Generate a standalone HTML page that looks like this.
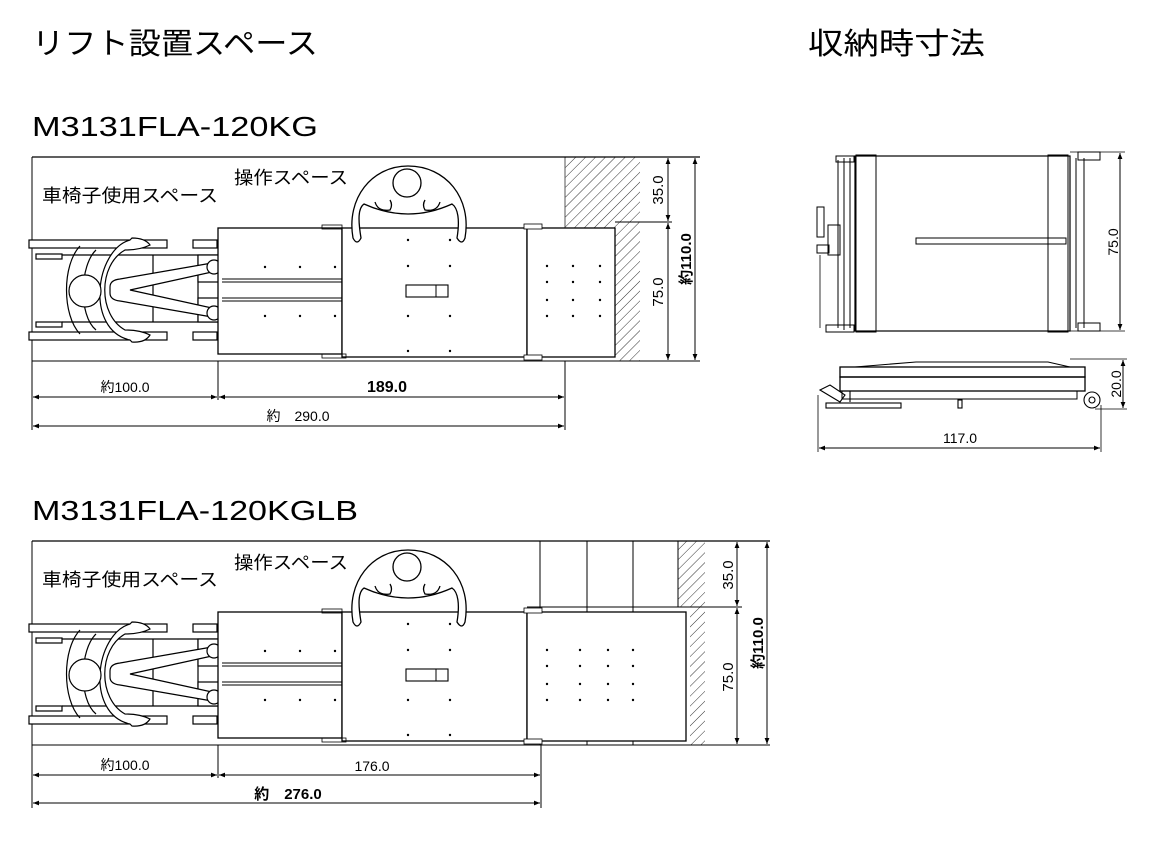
<!DOCTYPE html>
<html><head><meta charset="utf-8"><style>
html,body{margin:0;padding:0;background:#fff;}
svg{display:block;}
text{font-family:"Liberation Sans","Noto Sans CJK JP",sans-serif;fill:#000;}
</style></head><body>
<svg width="1165" height="843" viewBox="0 0 1165 843" xmlns="http://www.w3.org/2000/svg">
<defs>
<pattern id="h" width="7" height="7" patternUnits="userSpaceOnUse" patternTransform="rotate(45)">
<line x1="0" y1="0" x2="0" y2="7" stroke="#333" stroke-width="1"/>
</pattern>
<marker id="a" viewBox="0 0 10 10" refX="10" refY="5" markerWidth="8" markerHeight="6" orient="auto-start-reverse"><path d="M0,1 L10,5 L0,9 z" fill="#000"/></marker>
<g id="wc" fill="#fff" stroke="#000" stroke-width="1.2">
 <rect x="29" y="240" width="138" height="8"/><rect x="193" y="240" width="24" height="8"/>
 <rect x="29" y="332" width="138" height="8"/><rect x="193" y="332" width="24" height="8"/>
 <rect x="36" y="254" width="26" height="5"/><rect x="36" y="322" width="26" height="5"/>
 <line x1="62" y1="255" x2="222" y2="255"/><line x1="62" y1="322" x2="222" y2="322"/>
 <line x1="153" y1="255" x2="153" y2="322"/><line x1="198" y1="255" x2="198" y2="322"/>
 <rect x="198" y="255" width="24" height="27"/><rect x="198" y="298" width="24" height="24"/>
 <path d="M110,287 Q110,280 120,279 L212,263 L212,272 L130,290 L212,308 L212,317 L120,301 Q110,300 110,293 z"/>
 <circle cx="214" cy="267" r="7"/><circle cx="214" cy="313" r="7"/>
 <path d="M96,250 C80,265 78,315 96,330" fill="none"/>
 <path d="M130,240 C95,250 85,330 130,340 L132,342 Q145,343 150,335 Q140,330 125,330 C98,315 98,265 125,250 Q140,250 150,245 Q145,238 132,238 z"/>
 <path d="M80,246 C62,265 62,315 80,334" fill="none"/>
 <circle cx="85" cy="291" r="16"/>
</g>
<g id="op" fill="#fff" stroke="#000" stroke-width="1.3">
 <path d="M353,238 C346,198 372,166 408,166 C446,166 472,198 465,238 Q462,246 457,238 C460,220 458,208 452,204 Q430,214 408,214 Q386,214 364,204 C358,208 358,220 361,238 Q357,246 353,238 z"/>
 <circle cx="407" cy="183" r="14"/>
 <path d="M375,202 Q378,212 390,210 Q393,205 390,200"/>
 <path d="M440,202 Q437,212 425,210 Q422,205 425,200"/>
</g>
<g id="dots" fill="#000">
 <circle cx="265" cy="267" r="1.2"/><circle cx="300" cy="267" r="1.2"/><circle cx="335" cy="267" r="1.2"/>
 <circle cx="265" cy="316" r="1.2"/><circle cx="300" cy="316" r="1.2"/><circle cx="335" cy="316" r="1.2"/>
 <circle cx="408" cy="240" r="1.2"/><circle cx="450" cy="240" r="1.2"/>
 <circle cx="408" cy="266" r="1.2"/><circle cx="450" cy="266" r="1.2"/>
 <circle cx="408" cy="316" r="1.2"/><circle cx="450" cy="316" r="1.2"/>
 <circle cx="408" cy="351" r="1.2"/><circle cx="450" cy="351" r="1.2"/>
</g>
<g id="lift" fill="none" stroke="#000" stroke-width="1.3">
 <rect x="218" y="228" width="124" height="126" fill="#fff"/>
 <line x1="222" y1="279" x2="342" y2="279" stroke-width="1"/><line x1="222" y1="282" x2="342" y2="282" stroke-width="1"/>
 <line x1="222" y1="298" x2="342" y2="298" stroke-width="1"/><line x1="222" y1="301" x2="342" y2="301" stroke-width="1"/>
 <rect x="342" y="228" width="185" height="129" fill="#fff"/>
 <rect x="406" y="285" width="42" height="12" stroke-width="1.1"/>
 <line x1="436" y1="285" x2="436" y2="297" stroke-width="1"/>
 <rect x="322" y="225" width="20" height="4" stroke-width="0.8"/><rect x="322" y="354" width="24" height="4" stroke-width="0.8"/>
</g>
</defs>

<text x="32" y="54" font-size="30" textLength="286" lengthAdjust="spacingAndGlyphs">リフト設置スペース</text>
<text x="808" y="54" font-size="30" textLength="177" lengthAdjust="spacingAndGlyphs">収納時寸法</text>
<text x="32" y="136" font-size="28" textLength="286" lengthAdjust="spacingAndGlyphs">M3131FLA-120KG</text>
<text x="32" y="520" font-size="28" textLength="326" lengthAdjust="spacingAndGlyphs">M3131FLA-120KGLB</text>

<!-- Diagram 1 -->
<g>
 <polygon points="565,157 640,157 640,361 615,361 615,228 565,228" fill="url(#h)"/>
 <line x1="565" y1="157" x2="565" y2="228" stroke="#555" stroke-width="1"/>
 <line x1="32" y1="157" x2="700" y2="157" stroke="#000" stroke-width="1.3"/>
 <line x1="32" y1="157" x2="32" y2="430" stroke="#000" stroke-width="1"/>
 <line x1="32" y1="361" x2="218" y2="361" stroke="#000" stroke-width="1"/>
 <line x1="218" y1="361" x2="218" y2="400" stroke="#000" stroke-width="1"/>
 <line x1="565" y1="361" x2="565" y2="430" stroke="#000" stroke-width="1"/>
 <line x1="218" y1="361" x2="700" y2="361" stroke="#000" stroke-width="1"/>
 <line x1="615" y1="222" x2="672" y2="222" stroke="#000" stroke-width="1"/>
 <use href="#wc"/>
 <use href="#lift"/>
 <use href="#dots"/>
 <rect x="527" y="228" width="88" height="129" fill="#fff" stroke="#000" stroke-width="1.3"/>
 <rect x="524" y="224" width="18" height="5" fill="#fff" stroke="#000" stroke-width="0.8"/>
 <rect x="524" y="355" width="18" height="5" fill="#fff" stroke="#000" stroke-width="0.8"/>
 <g fill="#000"><circle cx="547" cy="266" r="1.2"/><circle cx="573" cy="266" r="1.2"/><circle cx="600" cy="266" r="1.2"/><circle cx="547" cy="282" r="1.2"/><circle cx="573" cy="282" r="1.2"/><circle cx="600" cy="282" r="1.2"/><circle cx="547" cy="300" r="1.2"/><circle cx="573" cy="300" r="1.2"/><circle cx="600" cy="300" r="1.2"/><circle cx="547" cy="316" r="1.2"/><circle cx="573" cy="316" r="1.2"/><circle cx="600" cy="316" r="1.2"/></g>
 <use href="#op"/>
 <text x="42" y="202" font-size="18" textLength="176" lengthAdjust="spacingAndGlyphs">車椅子使用スペース</text>
 <text x="234" y="184" font-size="18" textLength="114" lengthAdjust="spacingAndGlyphs">操作スペース</text>
 <g stroke="#000" stroke-width="1" fill="none">
  <line x1="668" y1="158" x2="668" y2="221" marker-start="url(#a)" marker-end="url(#a)"/>
  <line x1="668" y1="223" x2="668" y2="360" marker-start="url(#a)" marker-end="url(#a)"/>
  <line x1="695" y1="158" x2="695" y2="360" marker-start="url(#a)" marker-end="url(#a)"/>
  <line x1="33" y1="397" x2="217" y2="397" marker-start="url(#a)" marker-end="url(#a)"/>
  <line x1="219" y1="397" x2="564" y2="397" marker-start="url(#a)" marker-end="url(#a)"/>
  <line x1="33" y1="426" x2="564" y2="426" marker-start="url(#a)" marker-end="url(#a)"/>
 </g>
 <text transform="translate(663,190) rotate(-90)" font-size="15" text-anchor="middle">35.0</text>
 <text transform="translate(663,292) rotate(-90)" font-size="15" text-anchor="middle">75.0</text>
 <text transform="translate(691,259) rotate(-90)" font-size="15" font-weight="bold" text-anchor="middle">約110.0</text>
 <text x="125" y="392" font-size="14" text-anchor="middle">約100.0</text>
 <text x="387" y="392" font-size="16" font-weight="bold" text-anchor="middle">189.0</text>
 <text x="298" y="421" font-size="14" text-anchor="middle">約　290.0</text>
</g>

<!-- Diagram 2 -->
<g>
 <polygon points="678,541 705,541 705,745 690,745 690,607 678,607" fill="url(#h)"/>
 <g stroke="#000" stroke-width="1" fill="none">
  <line x1="540" y1="541" x2="540" y2="745"/><line x1="587" y1="541" x2="587" y2="745"/><line x1="633" y1="541" x2="633" y2="745"/><line x1="678" y1="541" x2="678" y2="607"/>
  <line x1="32" y1="541" x2="770" y2="541" stroke-width="1.3"/>
  <line x1="32" y1="541" x2="32" y2="808"/>
  <line x1="32" y1="745" x2="770" y2="745"/>
  <line x1="218" y1="745" x2="218" y2="778"/>
  <line x1="541" y1="745" x2="541" y2="808"/>
  <line x1="527" y1="607" x2="742" y2="607"/>
 </g>
 <g transform="translate(0,384)">
  <use href="#wc"/>
  <use href="#lift"/>
  <use href="#dots"/>
  <use href="#op"/>
 </g>
 <rect x="527" y="612" width="159" height="129" fill="#fff" stroke="#000" stroke-width="1.3"/>
 <rect x="524" y="608" width="18" height="5" fill="#fff" stroke="#000" stroke-width="0.8"/>
 <rect x="524" y="739" width="18" height="5" fill="#fff" stroke="#000" stroke-width="0.8"/>
 <g fill="#000"><circle cx="547" cy="650" r="1.2"/><circle cx="580" cy="650" r="1.2"/><circle cx="608" cy="650" r="1.2"/><circle cx="633" cy="650" r="1.2"/><circle cx="547" cy="666" r="1.2"/><circle cx="580" cy="666" r="1.2"/><circle cx="608" cy="666" r="1.2"/><circle cx="633" cy="666" r="1.2"/><circle cx="547" cy="684" r="1.2"/><circle cx="580" cy="684" r="1.2"/><circle cx="608" cy="684" r="1.2"/><circle cx="633" cy="684" r="1.2"/><circle cx="547" cy="700" r="1.2"/><circle cx="580" cy="700" r="1.2"/><circle cx="608" cy="700" r="1.2"/><circle cx="633" cy="700" r="1.2"/></g>
 <text x="42" y="586" font-size="18" textLength="176" lengthAdjust="spacingAndGlyphs">車椅子使用スペース</text>
 <text x="234" y="569" font-size="18" textLength="114" lengthAdjust="spacingAndGlyphs">操作スペース</text>
 <g stroke="#000" stroke-width="1" fill="none">
  <line x1="737" y1="542" x2="737" y2="606" marker-start="url(#a)" marker-end="url(#a)"/>
  <line x1="737" y1="608" x2="737" y2="744" marker-start="url(#a)" marker-end="url(#a)"/>
  <line x1="767" y1="542" x2="767" y2="744" marker-start="url(#a)" marker-end="url(#a)"/>
  <line x1="33" y1="775" x2="217" y2="775" marker-start="url(#a)" marker-end="url(#a)"/>
  <line x1="219" y1="775" x2="540" y2="775" marker-start="url(#a)" marker-end="url(#a)"/>
  <line x1="33" y1="803" x2="540" y2="803" marker-start="url(#a)" marker-end="url(#a)"/>
 </g>
 <text transform="translate(733,575) rotate(-90)" font-size="15" text-anchor="middle">35.0</text>
 <text transform="translate(733,677) rotate(-90)" font-size="15" text-anchor="middle">75.0</text>
 <text transform="translate(763,643) rotate(-90)" font-size="15" font-weight="bold" text-anchor="middle">約110.0</text>
 <text x="125" y="770" font-size="14" text-anchor="middle">約100.0</text>
 <text x="372" y="771" font-size="14" text-anchor="middle">176.0</text>
 <text x="288" y="799" font-size="15" font-weight="bold" text-anchor="middle">約　276.0</text>
</g>

<!-- Storage dims: top view -->
<g stroke="#000" fill="none" stroke-width="1.2">
 <rect x="855" y="156" width="215" height="175"/>
 <rect x="856" y="155" width="20" height="177" stroke-width="1"/>
 <rect x="1048" y="155" width="20" height="177" stroke-width="1"/>
 <line x1="850" y1="158" x2="850" y2="328" stroke-width="1"/>
 <line x1="844" y1="158" x2="844" y2="330" stroke-width="1"/>
 <line x1="838" y1="160" x2="838" y2="328" stroke-width="1"/>
 <line x1="1076" y1="158" x2="1076" y2="328" stroke-width="1"/>
 <line x1="1084" y1="158" x2="1084" y2="328" stroke-width="1"/>
 <rect x="1078" y="152" width="22" height="8" stroke-width="1"/>
 <rect x="1078" y="323" width="22" height="8" stroke-width="1"/>
 <rect x="826" y="325" width="28" height="7" stroke-width="1"/>
 <rect x="836" y="156" width="18" height="6" stroke-width="1"/>
 <rect x="817" y="207" width="7" height="30" stroke-width="1"/>
 <rect x="828" y="225" width="12" height="30" stroke-width="1"/>
 <rect x="817" y="245" width="12" height="8" stroke-width="1"/>
 <line x1="820" y1="255" x2="820" y2="328" stroke-width="0.8"/>
 <rect x="916" y="238" width="150" height="6" stroke-width="1"/>
 <line x1="1070" y1="152" x2="1125" y2="152" stroke-width="0.8"/>
 <line x1="1070" y1="331" x2="1125" y2="331" stroke-width="0.8"/>
 <line x1="1120" y1="153" x2="1120" y2="330" stroke-width="1" marker-start="url(#a)" marker-end="url(#a)"/>
</g>
<text transform="translate(1118,242) rotate(-90)" font-size="14" text-anchor="middle">75.0</text>

<!-- side view -->
<g stroke="#000" fill="none" stroke-width="1.1">
 <path d="M855,367 L916,362 L1048,362 L1070,367"/>
 <rect x="840" y="367" width="245" height="10" stroke-width="1.3"/>
 <rect x="840" y="377" width="245" height="14" stroke-width="1.3"/>
 <line x1="850" y1="391" x2="850" y2="402"/>
 <rect x="842" y="391" width="235" height="8" stroke-width="1"/>
 <path d="M820,390 L830,385 L845,395 L840,402 z"/>
 <rect x="826" y="403" width="75" height="5"/>
 <circle cx="1092" cy="400" r="8"/><circle cx="1092" cy="400" r="3"/>
 <rect x="958" y="400" width="4" height="8"/>
 <line x1="1070" y1="359" x2="1127" y2="359" stroke-width="0.8"/>
 <line x1="1095" y1="409" x2="1127" y2="409" stroke-width="0.8"/>
 <line x1="1123" y1="360" x2="1123" y2="408" stroke-width="1" marker-start="url(#a)" marker-end="url(#a)"/>
 <line x1="818" y1="395" x2="818" y2="452" stroke-width="0.8"/>
 <line x1="1101" y1="405" x2="1101" y2="452" stroke-width="0.8"/>
 <line x1="819" y1="448" x2="1100" y2="448" stroke-width="1" marker-start="url(#a)" marker-end="url(#a)"/>
</g>
<text transform="translate(1121,384) rotate(-90)" font-size="14" text-anchor="middle">20.0</text>
<text x="960" y="443" font-size="14" text-anchor="middle">117.0</text>
</svg>
</body></html>
